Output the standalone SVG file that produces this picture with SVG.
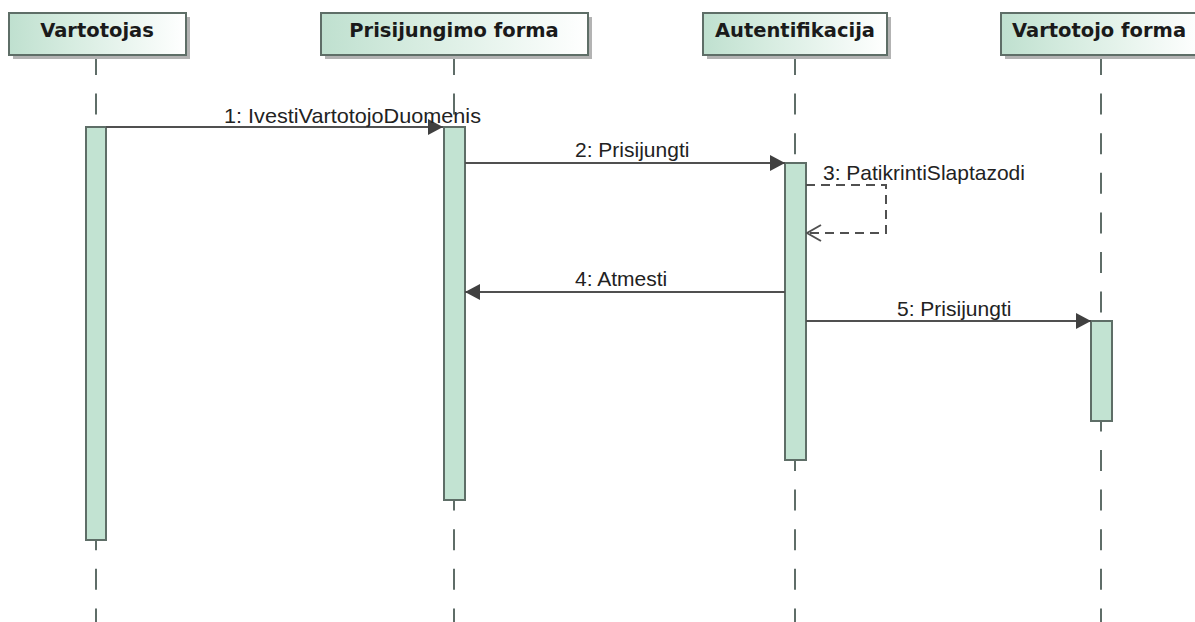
<svg xmlns="http://www.w3.org/2000/svg" width="1195" height="622" viewBox="0 0 1195 622">
  <style>
    .head { stroke: #5e6e67; stroke-width: 2; fill: url(#headFill); }
    .shadow { fill: #b3b3b3; }
    .headText { font-family: "DejaVu Sans", sans-serif; font-weight: bold; font-size: 19.5px; fill: #1a1a1a; text-anchor: middle; }
    .life { stroke: #5f6d68; stroke-width: 2; stroke-dasharray: 21 18.6; fill: none; }
    .bar { fill: #c2e3d2; stroke: #5e6e67; stroke-width: 2; }
    .msg { stroke: #505050; stroke-width: 2; fill: none; }
    .ret { stroke: #505050; stroke-width: 2; fill: none; stroke-dasharray: 9 6; }
    .lbl { font-family: "Liberation Sans", Arial, sans-serif; font-size: 21px; fill: #222; }
  </style>
  <defs>
    <linearGradient id="headFill" x1="0" y1="0" x2="1" y2="0">
      <stop offset="0" stop-color="#bfe0cf"/>
      <stop offset="0.35" stop-color="#d6ece0"/>
      <stop offset="1" stop-color="#ffffff"/>
    </linearGradient>
    <marker id="filled" viewBox="0 0 15 16" refX="15" refY="8" markerWidth="15" markerHeight="16" markerUnits="userSpaceOnUse" orient="auto">
      <path d="M0,0 L15,8 L0,16 Z" fill="#404040"/>
    </marker>
    <marker id="open" viewBox="0 0 16 18" refX="15" refY="9" markerWidth="16" markerHeight="18" markerUnits="userSpaceOnUse" orient="auto">
      <path d="M1,1 L15,9 L1,17" fill="none" stroke="#505050" stroke-width="2"/>
    </marker>
  </defs>
  <rect width="1195" height="622" fill="#ffffff"/>

  <!-- lifelines -->
  <g id="lifelines">
    <line class="life" x1="96" y1="54" x2="96" y2="622"/>
    <line class="life" x1="454" y1="54" x2="454" y2="622"/>
    <line class="life" x1="795" y1="54" x2="795" y2="622"/>
    <line class="life" x1="1101" y1="54" x2="1101" y2="622"/>
  </g>

  <g id="vartotojas">
    <rect class="shadow" x="13" y="17" width="177" height="42"/>
    <rect class="head" x="9" y="13" width="177" height="42"/>
    <text class="headText" x="97" y="37">Vartotojas</text>
    <rect class="bar" x="86" y="127" width="20" height="413"/>
  </g>

  <g id="prisijungimo-forma">
    <rect class="shadow" x="325" y="17" width="267" height="42"/>
    <rect class="head" x="321" y="13" width="267" height="42"/>
    <text class="headText" x="454" y="37">Prisijungimo forma</text>
    <rect class="bar" x="444" y="127" width="21" height="373"/>
  </g>

  <g id="autentifikacija">
    <rect class="shadow" x="707" y="17" width="184" height="42"/>
    <rect class="head" x="703" y="13" width="184" height="42"/>
    <text class="headText" x="795" y="37">Autentifikacija</text>
    <rect class="bar" x="785" y="163" width="21" height="297"/>
  </g>

  <g id="vartotojo-forma">
    <rect class="shadow" x="1005" y="17" width="200" height="42"/>
    <rect class="head" x="1001" y="13" width="200" height="42"/>
    <text class="headText" x="1099" y="37">Vartotojo forma</text>
    <rect class="bar" x="1091" y="321" width="21" height="100"/>
  </g>

  <!-- messages -->
  <g id="connectors">
    <line class="msg" x1="106" y1="127" x2="443" y2="127" marker-end="url(#filled)"/>
    <text class="lbl" x="224" y="123" textLength="257" lengthAdjust="spacingAndGlyphs">1: IvestiVartotojoDuomenis</text>

    <line class="msg" x1="465" y1="163" x2="785" y2="163" marker-end="url(#filled)"/>
    <text class="lbl" x="575" y="157">2: Prisijungti</text>

    <path class="ret" d="M806,185 H886 V233 H807" marker-end="url(#open)"/>
    <text class="lbl" x="823" y="180">3: PatikrintiSlaptazodi</text>

    <line class="msg" x1="785" y1="292" x2="465" y2="292" marker-end="url(#filled)"/>
    <text class="lbl" x="575" y="286">4: Atmesti</text>

    <line class="msg" x1="806" y1="321" x2="1091" y2="321" marker-end="url(#filled)"/>
    <text class="lbl" x="897" y="316">5: Prisijungti</text>
  </g>
</svg>
